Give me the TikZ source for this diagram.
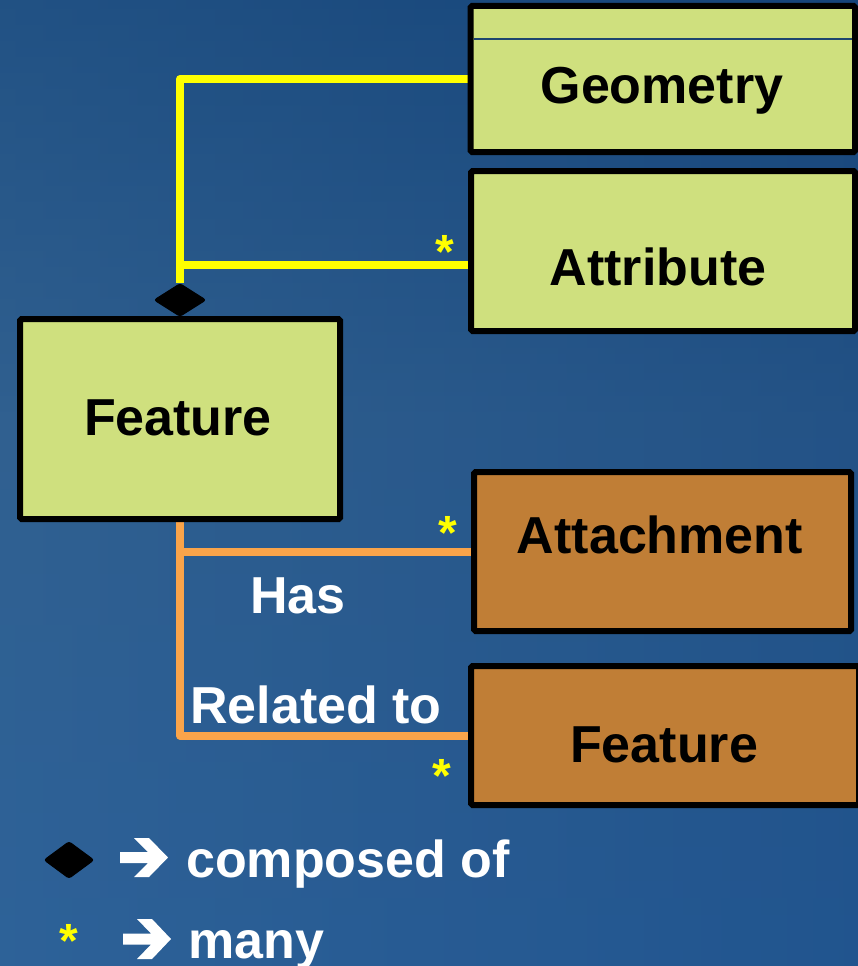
\documentclass[tikz,border=0pt]{standalone}
\usepackage{fontspec}
\setmainfont{Liberation Sans}
\usetikzlibrary{shapes.geometric}
\pgfdeclarelayer{bg}
\pgfdeclarelayer{links}
\pgfsetlayers{bg,links,main}

\definecolor{bgtop}{RGB}{22,70,122}
\definecolor{bgmid}{RGB}{48,96,144}
\definecolor{bgbot}{RGB}{44,100,160}
\definecolor{bgright}{RGB}{20,66,122}
\definecolor{boxgreen}{RGB}{207,224,126}
\definecolor{boxbrown}{RGB}{192,126,54}
\definecolor{linkyellow}{RGB}{255,255,0}
\definecolor{linkorange}{RGB}{250,164,74}
\definecolor{rulecol}{RGB}{30,70,110}

\tikzset{
  classbox/.style={draw=black, line width=6pt, rounded corners=1.5pt, inner sep=0pt},
  greenbox/.style={classbox, fill=boxgreen},
  brownbox/.style={classbox, fill=boxbrown},
  boxtext/.style={anchor=base, inner sep=0pt, font=\fontsize{52}{60}\selectfont\bfseries},
  roletext/.style={anchor=base west, inner sep=0pt, text=white, font=\fontsize{52}{60}\selectfont\bfseries},
  startext/.style={anchor=base, inner sep=0pt, text=linkyellow, font=\fontsize{48}{56}\selectfont\bfseries},
  yline/.style={draw=linkyellow, line width=8pt, line join=round},
  oline/.style={draw=linkorange, line width=8pt, line join=round},
  composite/.style={diamond, fill=black, draw=black, line width=1pt, rounded corners=2.5pt, inner sep=0pt},
  legendarrow/.style={fill=white}
}

\begin{document}
\begin{tikzpicture}[x=1pt, y=-1pt]
\useasboundingbox (0,0) rectangle (858,966);

% backdrop
\begin{pgfonlayer}{bg}
  \shade[top color=bgtop, bottom color=bgmid] (0,0) rectangle (858,420);
  \shade[top color=bgmid, bottom color=bgbot] (0,420) rectangle (858,966);
  \shade[left color=bgmid, right color=bgright, opacity=0.45] (0,0) rectangle (858,966);
\end{pgfonlayer}

% class boxes
\node[greenbox, minimum width=384.5pt, minimum height=146pt] (geom) at (662.75,79) {};
\draw[rulecol, line width=1.5pt, shorten <=6pt, shorten >=6pt]
  (geom.west |- 0,39) -- (geom.east |- 0,39);
\node[greenbox, minimum width=384pt, minimum height=160pt] (attr) at (663,251) {};
\node[greenbox, minimum width=320pt, minimum height=200pt] (feat) at (180,419) {};
\node[brownbox, minimum width=377pt, minimum height=159pt] (attach) at (662.5,551.5) {};
\node[brownbox, minimum width=388pt, minimum height=139pt] (relfeat) at (665,735.5) {};

% composition marker on top of Feature
\node[composite, minimum width=52pt, minimum height=33pt] (dia) at (180,300) {};

% box titles
\node[boxtext] (geomname) at (662,103) {Geometry};
\node[boxtext] (attrname) at (658,285) {Attribute};
\node[boxtext] (featname) at (178,435) {Feature};
\node[boxtext] (attachname) at (660,553) {Attachment};
\node[boxtext] (relfeatname) at (664,762) {Feature};

% connectors
\path (attr.west) ++(0,14) coordinate (attrport);
\begin{pgfonlayer}{links}
  \draw[yline] (dia.north) |- (geom.west);
  \draw[yline] (attrport) -- (attrport -| dia.north);
  \draw[oline] (feat.south) |- (relfeat.west);
  \draw[oline] (feat.south |- attach.west) -- (attach.west);
\end{pgfonlayer}

% role names
\node[roletext] (has) at (250,613) {Has};
\node[roletext] (relto) at (190,723) {Related to};

% multiplicities
\node[startext] (staratt) at (445,268) {*};
\node[startext] (starattach) at (448,549) {*};
\node[startext] (starrel) at (442,792) {*};

% legend
\node[composite, minimum width=50pt, minimum height=37pt] (legdia) at (69,860) {};
\fill[legendarrow] (120,852) -- (148,852) -- (134,838) -- (149,838) -- (168,857.5)
  -- (149,877) -- (134,877) -- (148,863) -- (120,863) -- cycle;
\node[roletext] (legcomp) at (186,877) {composed of};
\node[startext] (legstar) at (69,957) {*};
\fill[legendarrow] (123,933.5) -- (151,933.5) -- (137,919) -- (152,919) -- (171,939)
  -- (152,959) -- (137,959) -- (151,944.5) -- (123,944.5) -- cycle;
\node[roletext] (legmany) at (188,958) {many};
\end{tikzpicture}
\end{document}
